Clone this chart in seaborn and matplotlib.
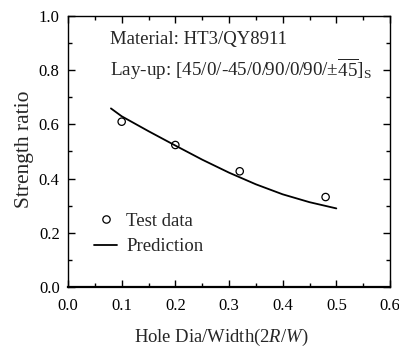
import matplotlib
matplotlib.use("Agg")
import matplotlib.pyplot as plt
import seaborn as sns
import pandas as pd
from matplotlib.ticker import MultipleLocator
from matplotlib.lines import Line2D

# test data
test_x = [0.10, 0.20, 0.32, 0.48]
test_y = [0.610, 0.524, 0.427, 0.332]

# prediction curve
pred_x = [0.08, 0.10, 0.15, 0.20, 0.25, 0.30, 0.35, 0.40, 0.45, 0.50]
pred_y = [0.659, 0.630, 0.575, 0.522, 0.470, 0.422, 0.379, 0.342, 0.313, 0.290]

x_ticks = [0.0, 0.1, 0.2, 0.3, 0.4, 0.5, 0.6]
y_ticks = [0.0, 0.2, 0.4, 0.6, 0.8, 1.0]

sns.set_theme(style="ticks")
plt.rcParams["font.family"] = ["Liberation Serif", "DejaVu Serif"]
plt.rcParams["mathtext.fontset"] = "custom"
plt.rcParams["mathtext.rm"] = "Liberation Serif"
plt.rcParams["mathtext.it"] = "Liberation Serif:italic"

test_df = pd.DataFrame({"x": test_x, "y": test_y})
pred_df = pd.DataFrame({"x": pred_x, "y": pred_y})

fig = plt.figure(figsize=(3.99, 3.51), dpi=100)
ax = fig.add_axes([68 / 399, 1 - 287 / 351, 322 / 399, 271 / 351])

sns.lineplot(data=pred_df, x="x", y="y", ax=ax, color="black", linewidth=1.3)
sns.scatterplot(data=test_df, x="x", y="y", ax=ax, marker="o", s=28,
                facecolor="none", edgecolor="black", linewidth=0.9)

ax.set_xlim(0, 0.6)
ax.set_ylim(0, 1.0)
ax.set_xticks(x_ticks)
ax.set_yticks(y_ticks)
ax.set_xticklabels([f"{v:.1f}" for v in x_ticks])
ax.set_yticklabels([f"{v:.1f}" for v in y_ticks])
ax.xaxis.set_minor_locator(MultipleLocator(0.05))
ax.yaxis.set_minor_locator(MultipleLocator(0.1))
ax.tick_params(which="both", direction="in", top=True, right=True,
               labelsize=12, colors="black", width=1.0)
ax.tick_params(which="major", length=5)
ax.tick_params(which="minor", length=3)
ax.tick_params(axis="x", pad=8)
ax.tick_params(axis="y", pad=6)
for s in ax.spines.values():
    s.set_linewidth(1.0)
    s.set_color("black")
ax.spines["bottom"].set_linewidth(1.6)

ax.set_xlabel(r"Hole Dia/Width(2$\mathit{R/W}$)", fontsize=13.4, va="center")
ax.xaxis.set_label_coords(0.475, -(337 - 287) / 271)
ax.set_ylabel("Strength ratio", fontsize=15.5, va="center")
ax.yaxis.set_label_coords(-(68 - 24) / 322, 0.51)

ax.text(0.130, 0.915, "Material: HT3/QY8911", transform=ax.transAxes,
        fontsize=13.5, va="center", ha="left")
ax.text(0.130, 0.804,
        r"Lay-up: [45/0/-45/0/90/0/90/$\pm\overline{45}$]$_{\mathrm{S}}$",
        transform=ax.transAxes, fontsize=13.8, va="center", ha="left")

handles = [
    Line2D([], [], marker="o", linestyle="none", markerfacecolor="none",
           markeredgecolor="black", markersize=5.3, markeredgewidth=0.9),
    Line2D([], [], color="black", linewidth=1.3),
]
ax.legend(handles, ["Test data", "Prediction"], loc="center left",
          bbox_to_anchor=(0.081, 0.196), frameon=False, fontsize=13.5,
          handlelength=1.23, handletextpad=0.48, labelspacing=0.46,
          borderpad=0, borderaxespad=0)

fig.savefig("out.png", dpi=100)
